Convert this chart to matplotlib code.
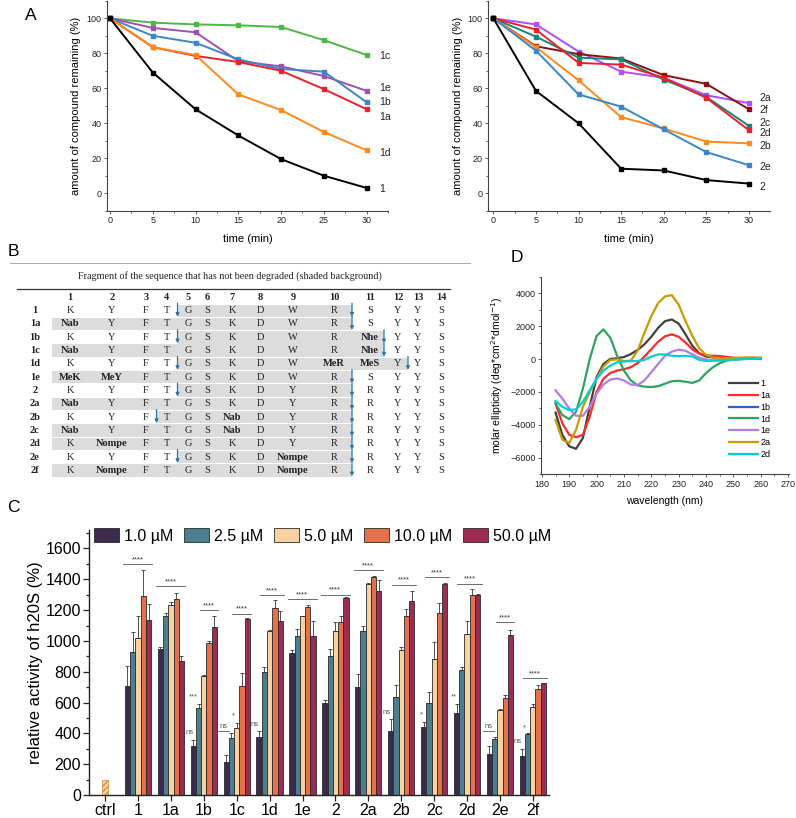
import matplotlib
matplotlib.use('Agg')
import matplotlib.pyplot as plt
from matplotlib.ticker import MultipleLocator
from matplotlib.patches import Rectangle

plt.rcParams['font.family'] = ['Liberation Sans', 'DejaVu Sans']

# ---------------- panel A: stability in time ----------------
time_min = [0, 5, 10, 15, 20, 25, 30]

rem_1 = [100, 69, 48, 33, 19.5, 10, 3]
rem_1a = [100, 83.5, 78.5, 75, 70, 59.5, 48]
rem_1b = [100, 90, 86, 76.5, 71, 69.5, 52]
rem_1c = [100, 97.5, 96.5, 96, 95, 87.5, 79]
rem_1d = [100, 83.5, 79, 56.5, 47.5, 35, 24.5]
rem_1e = [100, 94.5, 92, 75.5, 72.5, 67, 58.5]

rem_2 = [100, 58.5, 40, 14, 13, 7.5, 5.5]
rem_2a = [100, 96.5, 81, 69.5, 66, 56, 51.5]
rem_2b = [100, 83.5, 64.5, 43.5, 37, 29.5, 28.5]
rem_2c = [100, 89.5, 77.5, 76.5, 65, 55, 38.5]
rem_2d = [100, 93.5, 74.5, 73.5, 66, 54.5, 36]
rem_2e = [100, 81.5, 56.5, 49.5, 36.5, 23.5, 16]
rem_2f = [100, 84, 79.5, 77, 67.5, 62.5, 48]

names_a1 = ['1c', '1e', '1b', '1a', '1d', '1']
series_a1 = [rem_1c, rem_1e, rem_1b, rem_1a, rem_1d, rem_1]
colors_a1 = ['#4cb848', '#a34fb0', '#3b86c6', '#e8212b', '#ff8a1c', '#000000']
label_y_a1 = [78.7, 60, 52, 43.8, 22.9, 2.3]

names_a2 = ['2a', '2f', '2c', '2d', '2b', '2e', '2']
series_a2 = [rem_2a, rem_2f, rem_2c, rem_2d, rem_2b, rem_2e, rem_2]
colors_a2 = ['#b04dff', '#8b1014', '#128878', '#e8212b', '#ff8a1c', '#3b86c6', '#000000']
label_y_a2 = [54.3, 47.6, 40.4, 34.7, 27, 15.2, 3.8]

# ---------------- panel B: sequence table ----------------
row_names = ['1', '1a', '1b', '1c', '1d', '1e', '2', '2a', '2b', '2c', '2d', '2e', '2f']
residues = [
    ['K', 'Y', 'F', 'T', 'G', 'S', 'K', 'D', 'W', 'R', 'S', 'Y', 'Y', 'S'],
    ['Nab', 'Y', 'F', 'T', 'G', 'S', 'K', 'D', 'W', 'R', 'S', 'Y', 'Y', 'S'],
    ['K', 'Y', 'F', 'T', 'G', 'S', 'K', 'D', 'W', 'R', 'Nhe', 'Y', 'Y', 'S'],
    ['Nab', 'Y', 'F', 'T', 'G', 'S', 'K', 'D', 'W', 'R', 'Nhe', 'Y', 'Y', 'S'],
    ['K', 'Y', 'F', 'T', 'G', 'S', 'K', 'D', 'W', 'MeR', 'MeS', 'Y', 'Y', 'S'],
    ['MeK', 'MeY', 'F', 'T', 'G', 'S', 'K', 'D', 'W', 'R', 'S', 'Y', 'Y', 'S'],
    ['K', 'Y', 'F', 'T', 'G', 'S', 'K', 'D', 'Y', 'R', 'R', 'Y', 'Y', 'S'],
    ['Nab', 'Y', 'F', 'T', 'G', 'S', 'K', 'D', 'Y', 'R', 'R', 'Y', 'Y', 'S'],
    ['K', 'Y', 'F', 'T', 'G', 'S', 'Nab', 'D', 'Y', 'R', 'R', 'Y', 'Y', 'S'],
    ['Nab', 'Y', 'F', 'T', 'G', 'S', 'Nab', 'D', 'Y', 'R', 'R', 'Y', 'Y', 'S'],
    ['K', 'Nompe', 'F', 'T', 'G', 'S', 'K', 'D', 'Y', 'R', 'R', 'Y', 'Y', 'S'],
    ['K', 'Y', 'F', 'T', 'G', 'S', 'K', 'D', 'Nompe', 'R', 'R', 'Y', 'Y', 'S'],
    ['K', 'Nompe', 'F', 'T', 'G', 'S', 'K', 'D', 'Nompe', 'R', 'R', 'Y', 'Y', 'S'],
]
intact_first = [5, 1, 5, 1, 5, 1, 5, 1, 4, 1, 1, 5, 1]
intact_last = [10, 10, 11, 11, 12, 10, 10, 10, 10, 10, 10, 10, 10]
cleave_after = [[4, 10], [10], [4, 11], [11], [4, 12], [10], [4, 10], [10],
                [3, 10], [10], [10], [4, 10], [10]]

# ---------------- panel C: h20S activation ----------------
groups = ['1', '1a', '1b', '1c', '1d', '1e', '2', '2a', '2b', '2c', '2d', '2e', '2f']
conc_labels = ['1.0 µM', '2.5 µM', '5.0 µM', '10.0 µM', '50.0 µM']
ctrl_value = 100

act_1_0 = [705, 947, 321, 215, 375, 921, 600, 700, 418, 440, 529, 264, 254]
act_2_5 = [926, 1160, 564, 373, 800, 1030, 900, 1067, 635, 600, 809, 364, 395]
act_5_0 = [1019, 1236, 774, 438, 1067, 1160, 1067, 1370, 943, 882, 1043, 553, 570]
act_10_0 = [1290, 1275, 986, 709, 1214, 1220, 1120, 1416, 1160, 1182, 1301, 627, 689]
act_50_0 = [1138, 871, 1088, 1145, 1127, 1030, 1279, 1322, 1260, 1370, 1299, 1041, 724]

sd_1_0 = [130, 15, 37, 45, 43, 22, 18, 85, 74, 33, 61, 57, 47]
sd_2_5 = [130, 22, 26, 28, 28, 47, 47, 32, 82, 68, 19, 11, 8]
sd_5_0 = [140, 15, 5, 28, 5, 5, 54, 5, 15, 113, 84, 5, 20]
sd_10_0 = [170, 37, 16, 82, 54, 14, 40, 5, 48, 65, 39, 23, 26]
sd_50_0 = [102, 29, 76, 5, 65, 97, 5, 76, 67, 5, 5, 32, 5]

conc_colors = ['#3d2b4e', '#4b7f8f', '#f7d2a0', '#e5714a', '#9c2c52']

# '****' brackets: level and first bar covered in each group
sig_level = [1500, 1355, 1199, 1177, 1296, 1273, 1301, 1459, 1366, 1416, 1372, 1123, 759]
sig_first_bar = [0, 0, 2, 2, 1, 0, 0, 0, 1, 1, 1, 2, 1]

# small marks: group, x offset, level, text, underline
small_marks = [
    ('1b', -0.44, 408, 'ns', False),
    ('1b', -0.32, 635, '***', False),
    ('1c', -0.41, 444, 'ns', True),
    ('1c', -0.10, 514, '*', False),
    ('1d', -0.47, 455, 'ns', False),
    ('2b', -0.44, 535, 'ns', False),
    ('2c', -0.38, 520, '*', False),
    ('2d', -0.41, 635, '**', False),
    ('2e', -0.35, 444, 'ns', True),
    ('2f', -0.46, 347, 'ns', False),
    ('2f', -0.25, 434, '*', False),
]

# ---------------- panel D: CD spectra ----------------
wavelength = [185, 187.5, 190, 192.5, 195, 197.5, 200, 202.5, 205, 207.5, 210,
              212.5, 215, 217.5, 220, 222.5, 225, 227.5, 230, 232.5, 235,
              237.5, 240, 242.5, 245, 247.5, 250, 252.5, 255, 257.5, 260]
cd_1 = [-3250, -4600, -5300, -5450, -4800, -2900, -1100, -300, 0, 50, 120,
        300, 550, 900, 1350, 1900, 2300, 2400, 2150, 1500, 800,
        350, 150, 100, 80, 60, 50, 50, 50, 60, 60]
cd_1a = [-2700, -3900, -4600, -4750, -4600, -3500, -2000, -1200, -850, -700, -620,
         -500, -250, 150, 600, 1050, 1380, 1500, 1350, 1000, 580,
         330, 220, 200, 180, 130, 80, 50, 30, 20, 0]
cd_1d = [-2700, -3400, -3650, -3200, -1800, 0, 1400, 1800, 1300, 200, -700,
         -1300, -1600, -1680, -1700, -1650, -1500, -1350, -1320, -1380, -1450,
         -1300, -850, -500, -250, -100, -30, 0, 20, 40, 50]
cd_1e = [-1900, -2400, -3000, -3450, -3450, -2900, -2100, -1550, -1250, -1180, -1300,
         -1550, -1580, -1300, -800, -300, 200, 450, 570, 500, 280,
         80, -30, -80, -80, -50, -20, 0, 20, 30, 40]
cd_2a = [-3700, -4900, -5100, -4300, -2900, -2000, -1200, -450, -60, -20, -120,
         -100, 500, 1600, 2600, 3400, 3800, 3880, 3300, 2300, 1400,
         650, 250, 100, 50, 50, 60, 80, 100, 100, 80]
cd_2d = [-2550, -2900, -3100, -3050, -2600, -1900, -1200, -700, -400, -200, -150,
         -130, -120, -50, 150, 280, 280, 200, 180, 200, 150,
         -50, -120, -100, -80, -60, -40, -20, 0, 30, 50]

cd_names = ['1', '1a', '1b', '1d', '1e', '2a', '2d']
cd_colors = ['#404040', '#ff2a2a', '#1f64d8', '#2ea35e', '#b07de8', '#c89b00', '#00cfd6']
cd_series = [cd_1, cd_1a, None, cd_1d, cd_1e, cd_2a, cd_2d]

# =====================================================================
W, H = 796, 818
fig = plt.figure(figsize=(W / 100, H / 100), dpi=100)


def px_axes(x0, y0, x1, y1):
    # axes box from pixel corners (top-left origin)
    return fig.add_axes([x0 / W, 1 - y1 / H, (x1 - x0) / W, (y1 - y0) / H])


# overlay for table and panel letters
axb = fig.add_axes([0, 0, 1, 1])
axb.set_xlim(0, W)
axb.set_ylim(H, 0)
axb.axis('off')

for letter, lx, ly in [('A', 31, 15), ('B', 13, 251), ('C', 13, 507), ('D', 517, 258)]:
    axb.text(lx, ly, letter, fontsize=12.5, ha='center', va='center')


def style_axes(a, lsize):
    for s in ['top', 'right']:
        a.spines[s].set_visible(False)
    for s in ['left', 'bottom']:
        a.spines[s].set_color('#444444')
        a.spines[s].set_linewidth(0.8)
    a.tick_params(which='both', direction='out', color='#444444', labelcolor='#222222',
                  labelsize=lsize, width=0.6)
    a.tick_params(which='major', length=2.5, pad=1.5)
    a.tick_params(which='minor', length=1.5)


# ---- A left
axA1 = px_axes(107, 0.8, 388, 210.7)
for name, vals, col, ly in zip(names_a1, series_a1, colors_a1, label_y_a1):
    axA1.plot(time_min, vals, color=col, lw=1.4, marker='s', ms=3.5, clip_on=False)
    axA1.text(31.5, ly, name, fontsize=7.5, va='center', ha='left', color='#222222')
axA1.set_xlim(-0.35, 32.5)
axA1.set_ylim(-10, 110)
axA1.set_xticks(range(0, 31, 5))
axA1.set_yticks(range(0, 101, 20))
axA1.xaxis.set_minor_locator(MultipleLocator(2.5))
axA1.yaxis.set_minor_locator(MultipleLocator(10))
style_axes(axA1, 6.5)
axA1.set_xlabel('time (min)', fontsize=8)
axA1.set_ylabel('amount of compound remaining (%)', fontsize=8)
axA1.yaxis.set_label_coords(-0.093, 0.5)
axA1.xaxis.set_label_coords(0.5, -0.11)

# ---- A right
axA2 = px_axes(488.3, 0.8, 770, 210.7)
for name, vals, col, ly in zip(names_a2, series_a2, colors_a2, label_y_a2):
    axA2.plot(time_min, vals, color=col, lw=1.4, marker='s', ms=3.5, clip_on=False)
    axA2.text(31.2, ly, name, fontsize=7.5, va='center', ha='left', color='#222222')
axA2.set_xlim(-0.59, 32.47)
axA2.set_ylim(-10, 110)
axA2.set_xticks(range(0, 31, 5))
axA2.set_yticks(range(0, 101, 20))
axA2.xaxis.set_minor_locator(MultipleLocator(2.5))
axA2.yaxis.set_minor_locator(MultipleLocator(10))
style_axes(axA2, 6.5)
axA2.set_xlabel('time (min)', fontsize=8)
axA2.set_ylabel('amount of compound remaining (%)', fontsize=8)
axA2.yaxis.set_label_coords(-0.09, 0.5)
axA2.xaxis.set_label_coords(0.5, -0.11)

# ---- B table
serif = ['Liberation Serif', 'DejaVu Serif']
col_x = [70, 112, 146, 167, 188, 207, 232, 260, 293, 334, 370, 398, 418, 441]
left_edge = 52
row_y0, row_step = 310.7, 13.3
arrow_col = '#2a76a8'


def boundary(after_col):
    # x between residue after_col and after_col+1 (1-based)
    return (col_x[after_col - 1] + col_x[after_col]) / 2


axb.plot([10, 470], [263, 263], color='#9a9a9a', lw=0.6)
axb.plot([17, 450], [288.5, 288.5], color='#333333', lw=0.9)
axb.text(230, 276, 'Fragment of the sequence that has not been degraded (shaded background)',
         family=serif, fontsize=7.3, ha='center', va='center', color='#222222')
for j, x in enumerate(col_x):
    axb.text(x, 297.5, str(j + 1), family=serif, fontsize=7.5, fontweight='bold',
             ha='center', va='center', color='#222222')

for i, name in enumerate(row_names):
    y = row_y0 + i * row_step
    x0 = left_edge if intact_first[i] == 1 else boundary(intact_first[i] - 1)
    x1 = boundary(intact_last[i])
    axb.add_patch(Rectangle((x0, y - 6.2), x1 - x0, 12.4, facecolor='#dcdcdc',
                            edgecolor='none', zorder=0))
    axb.text(35, y, name, family=serif, fontsize=7.5, fontweight='bold',
             ha='center', va='center', color='#222222')
    for j, res in enumerate(residues[i]):
        axb.text(col_x[j], y, res, family=serif, fontsize=7.5,
                 fontweight='bold' if len(res) > 1 else 'normal',
                 ha='center', va='center', color='#222222')
    for c in cleave_after[i]:
        bx = boundary(c)
        axb.annotate('', xy=(bx, y + 6), xytext=(bx, y - 7.5),
                     arrowprops=dict(arrowstyle='-|>', color=arrow_col, lw=0.9,
                                     mutation_scale=5, shrinkA=0, shrinkB=0))

# ---- C bars
axC = px_axes(89.3, 530, 549.3, 795)
bw = 0.16
xs = list(range(1, len(groups) + 1))
acts = [act_1_0, act_2_5, act_5_0, act_10_0, act_50_0]
sds = [sd_1_0, sd_2_5, sd_5_0, sd_10_0, sd_50_0]
axC.bar([0], [ctrl_value], width=bw, color='#f8d9aa', edgecolor='#d08a40',
        hatch='//////', lw=0.5)
for k in range(5):
    pos = [x + (k - 2) * bw for x in xs]
    axC.bar(pos, acts[k], width=bw, color=conc_colors[k], edgecolor='#2a2a2a', lw=0.6,
            label=conc_labels[k], yerr=[[0] * len(xs), sds[k]],
            error_kw=dict(ecolor='#333333', elinewidth=0.6, capsize=1.6, capthick=0.6))

for x, lev, fb in zip(xs, sig_level, sig_first_bar):
    xa = x + (fb - 2) * bw - bw / 2 - 0.05
    xb = x + 2 * bw + bw / 2 + 0.04
    axC.plot([xa, xb], [lev, lev], color='#555555', lw=0.6)
    axC.text((xa + xb) / 2, lev + 5, '****', fontsize=5.5, ha='center', va='bottom',
             color='#333333')

for g, dx, lev, txt, under in small_marks:
    x = groups.index(g) + 1 + dx
    axC.text(x, lev, txt, fontsize=5.5, ha='center', va='center', color='#555555')
    if under:
        axC.plot([x - 0.18, x + 0.18], [lev - 30, lev - 30], color='#555555', lw=0.6)

axC.set_xlim(-0.48, 13.5)
axC.set_ylim(0, 1720)
axC.set_xticks([0] + xs)
axC.set_xticklabels(['ctrl'] + groups)
axC.set_yticks(range(0, 1601, 200))
axC.yaxis.set_minor_locator(MultipleLocator(100))
for s in ['top', 'right']:
    axC.spines[s].set_visible(False)
for s in ['left', 'bottom']:
    axC.spines[s].set_linewidth(1.0)
    axC.spines[s].set_color('#222222')
axC.tick_params(which='both', direction='out', labelsize=11.5, width=0.9, color='#222222')
axC.tick_params(which='major', length=4, pad=2)
axC.tick_params(which='minor', length=2)
axC.set_ylabel('relative activity of h20S (%)', fontsize=12)
axC.yaxis.set_label_coords(-0.1, 0.5)
axC.legend(ncol=5, loc='upper left', bbox_to_anchor=(94 / W, 1 - 528 / H),
           bbox_transform=fig.transFigure, frameon=False, fontsize=11.5,
           handlelength=1.55, handleheight=1.0, handletextpad=0.3,
           columnspacing=0.7, borderpad=0, borderaxespad=0)

# ---- D CD spectra
axD = px_axes(541, 276.7, 789, 474.3)
for name, col, vals in zip(cd_names, cd_colors, cd_series):
    if vals is None:
        axD.plot([], [], color=col, lw=1.6, label=name)
    else:
        axD.plot(wavelength, vals, color=col, lw=1.6, label=name)
axD.set_xlim(179.7, 270.3)
axD.set_ylim(-7000, 5000)
axD.set_xticks(range(180, 271, 10))
axD.set_yticks(range(-6000, 4001, 2000))
axD.xaxis.set_minor_locator(MultipleLocator(5))
axD.yaxis.set_minor_locator(MultipleLocator(1000))
style_axes(axD, 6.5)
axD.set_xlabel('wavelength (nm)', fontsize=7.5)
axD.set_ylabel(r'molar ellipticity (deg*cm$^{2}$*dmol$^{-1}$)', fontsize=7.5)
axD.yaxis.set_label_coords(-0.145, 0.5)
axD.xaxis.set_label_coords(0.5, -0.11)
axD.legend(loc='upper left', bbox_to_anchor=(0.76, 0.48), frameon=False, fontsize=6.5,
           handlelength=3.2, handletextpad=0.2, labelspacing=0.3,
           borderpad=0, borderaxespad=0)

fig.savefig('out.png', dpi=100)
